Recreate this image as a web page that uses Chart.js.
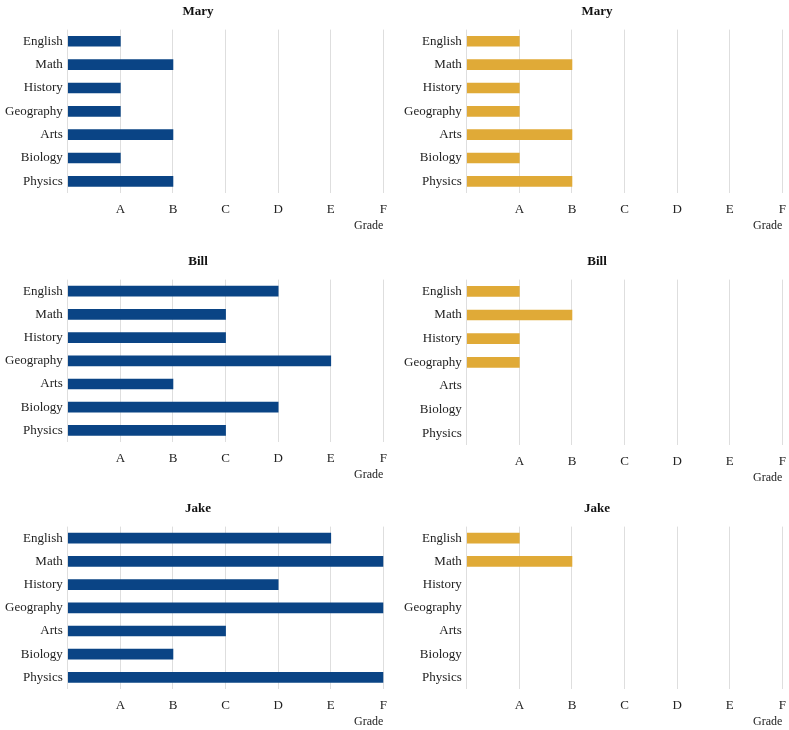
<!DOCTYPE html>
<html>
<head>
<meta charset="utf-8">
<script src="https://cdn.jsdelivr.net/npm/chart.js@4"></script>
<style>
  body { margin: 0; background: #fff; overflow: hidden; }
  .panel { position: absolute; }
</style>
</head>
<body>
<div class="panel" style="left:0;top:0;width:396px;height:233px"><canvas id="c1"></canvas></div>
<div class="panel" style="left:399px;top:0;width:396px;height:233px"><canvas id="c2"></canvas></div>
<div class="panel" style="left:0;top:250px;width:396px;height:232px"><canvas id="c3"></canvas></div>
<div class="panel" style="left:399px;top:250px;width:396px;height:235px"><canvas id="c4"></canvas></div>
<div class="panel" style="left:0;top:497px;width:396px;height:232px"><canvas id="c5"></canvas></div>
<div class="panel" style="left:399px;top:497px;width:396px;height:232px"><canvas id="c6"></canvas></div>
<script>
const subjects = ["English", "Math", "History", "Geography", "Arts", "Biology", "Physics"];
const gradeLabels = ["", "A", "B", "C", "D", "E", "F"];

// grades as numbers: A=1 ... F=6
const maryBlue = [1, 2, 1, 1, 2, 1, 2];
const maryGold = [1, 2, 1, 1, 2, 1, 2];
const billBlue = [4, 3, 3, 5, 2, 4, 3];
const billGold = [1, 2, 1, 1, null, null, null];
const jakeBlue = [5, 6, 4, 6, 3, 2, 6];
const jakeGold = [1, 2, null, null, null, null, null];

const blue = "#0a4485";
const gold = "#e0aa37";
const font = "'Liberation Serif', 'Times New Roman', serif";

function makeChart(id, title, values, color) {
  const ctx = document.getElementById(id).getContext("2d");
  return new Chart(ctx, {
    type: "bar",
    data: {
      labels: subjects,
      datasets: [
        {
          data: values,
          backgroundColor: color,
          barThickness: 10,
        },
      ],
    },
    options: {
      indexAxis: "y",
      responsive: true,
      maintainAspectRatio: false,
      animation: false,
      layout: {
        padding: { left: 0, right: 0, top: 0, bottom: 0 },
      },
      plugins: {
        legend: { display: false },
        tooltip: { enabled: false },
        title: {
          display: true,
          text: title,
          color: "#111",
          font: { family: font, size: 13, weight: "bold" },
          padding: { top: 4, bottom: 10 },
        },
      },
      scales: {
        x: {
          min: 0,
          max: 6,
          grid: { display: true, color: "#dedede", drawTicks: false },
          border: { display: false },
          ticks: {
            stepSize: 1,
            padding: 9,
            color: "#222",
            font: { family: font, size: 13 },
            callback: function (value) {
              return gradeLabels[value];
            },
          },
          title: {
            display: true,
            text: "Grade",
            align: "end",
            color: "#222",
            font: { family: font, size: 12 },
            padding: { top: -8, bottom: 0 },
          },
        },
        y: {
          grid: { display: false, drawTicks: false, tickLength: 0 },
          border: { display: false },
          ticks: {
            padding: 5,
            color: "#222",
            font: { family: font, size: 13 },
          },
        },
      },
    },
  });
}

makeChart("c1", "Mary", maryBlue, blue);
makeChart("c2", "Mary", maryGold, gold);
makeChart("c3", "Bill", billBlue, blue);
makeChart("c4", "Bill", billGold, gold);
makeChart("c5", "Jake", jakeBlue, blue);
makeChart("c6", "Jake", jakeGold, gold);
</script>
</body>
</html>
